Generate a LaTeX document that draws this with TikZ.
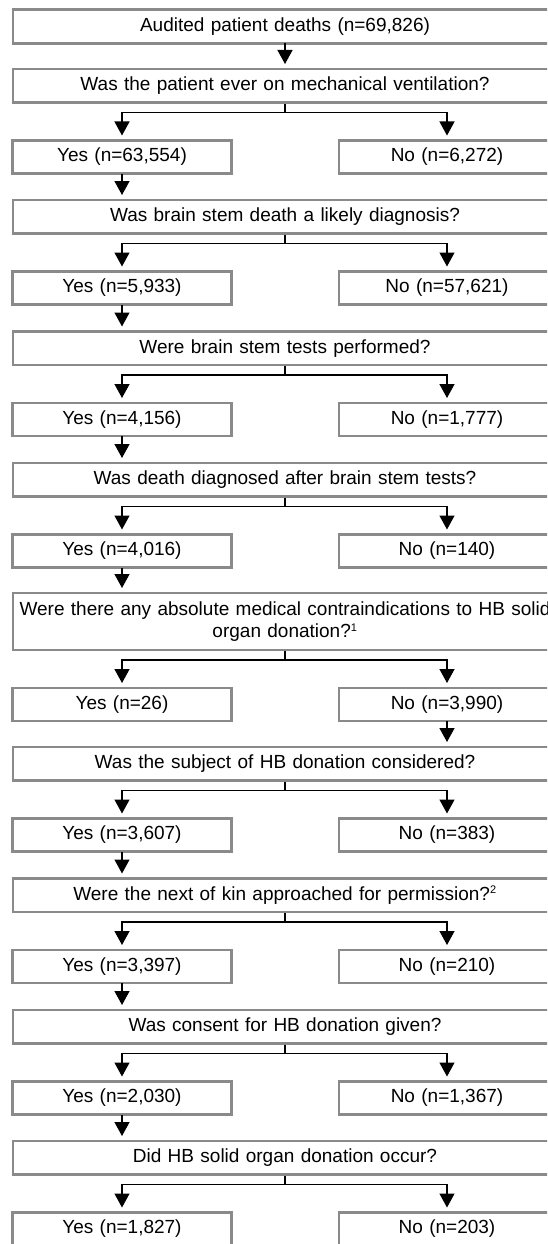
\documentclass[tikz,border=0pt]{standalone}
\usepackage{fontspec}
\setmainfont{Liberation Sans}
\usetikzlibrary{arrows.meta}
\definecolor{boxgray}{RGB}{138,138,138}
\begin{document}
\begin{tikzpicture}[x=1pt,y=-1pt,
  gbox/.style={draw=boxgray, line width=2.4pt, inner sep=0pt, outer sep=0pt, fill=white,
    font=\fontsize{19}{22.8}\selectfont, align=center, anchor=north},
  wide/.style={gbox, minimum width=544pt, text width=544pt, minimum height=33.5pt},
  yesbox/.style={gbox, minimum width=219pt, text width=219pt, minimum height=33pt},
  nobox/.style={gbox, minimum width=216pt, text width=216pt, minimum height=33pt},
  conn/.style={line width=1.3pt, black},
  arr/.style={conn, -{Triangle[length=14pt,width=15pt]}, shorten >=5pt}]
\useasboundingbox (0,0) rectangle (547,1244);
\fill[white] (0,0) rectangle (547,1244);
\clip (0,0) rectangle (547,1244);

\node[wide, minimum height=34pt] (top) at (285,9.5) {Audited patient deaths (n=69,826)};

\node[wide] (q1) at (285,69) {Was the patient ever on mechanical ventilation?};
\node[yesbox] (y1) at (122,140.5) {Yes (n=63,554)};
\node[nobox] (n1) at (447,140.5) {No (n=6,272)};
\coordinate (h1) at (285,112.5);

\node[wide] (q2) at (285,200) {Was brain stem death a likely diagnosis?};
\node[yesbox] (y2) at (122,271.5) {Yes (n=5,933)};
\node[nobox] (n2) at (447,271.5) {No (n=57,621)};
\coordinate (h2) at (285,243.5);

\node[wide] (q3) at (285,331.5) {Were brain stem tests performed?};
\node[yesbox] (y3) at (122,403) {Yes (n=4,156)};
\node[nobox] (n3) at (447,403) {No (n=1,777)};
\coordinate (h3) at (285,375);

\node[wide] (q4) at (285,463) {Was death diagnosed after brain stem tests?};
\node[yesbox] (y4) at (122,534.5) {Yes (n=4,016)};
\node[nobox] (n4) at (447,534.5) {No (n=140)};
\coordinate (h4) at (285,506.5);

\node[wide, minimum height=57pt] (q5) at (285,593) {Were there any absolute medical contraindications to HB solid\\organ donation?\textsuperscript{\fontsize{11}{12}\selectfont 1}};
\node[yesbox] (y5) at (122,688) {Yes (n=26)};
\node[nobox] (n5) at (447,688) {No (n=3,990)};
\coordinate (h5) at (285,660);

\node[wide] (q6) at (285,747) {Was the subject of HB donation considered?};
\node[yesbox] (y6) at (122,818.5) {Yes (n=3,607)};
\node[nobox] (n6) at (447,818.5) {No (n=383)};
\coordinate (h6) at (285,790.5);

\node[wide] (q7) at (285,878.5) {Were the next of kin approached for permission?\textsuperscript{\fontsize{11}{12}\selectfont 2}};
\node[yesbox] (y7) at (122,950) {Yes (n=3,397)};
\node[nobox] (n7) at (447,950) {No (n=210)};
\coordinate (h7) at (285,922);

\node[wide] (q8) at (285,1010) {Was consent for HB donation given?};
\node[yesbox] (y8) at (122,1081.5) {Yes (n=2,030)};
\node[nobox] (n8) at (447,1081.5) {No (n=1,367)};
\coordinate (h8) at (285,1053.5);

\node[wide] (q9) at (285,1141) {Did HB solid organ donation occur?};
\node[yesbox] (y9) at (122,1212.5) {Yes (n=1,827)};
\node[nobox] (n9) at (447,1212.5) {No (n=203)};
\coordinate (h9) at (285,1184.5);

% straight arrows between stages
\draw[arr] (top.south) -- (q1.north);
\draw[arr] (y1.south) -- (y1.south |- q2.north);
\draw[arr] (y2.south) -- (y2.south |- q3.north);
\draw[arr] (y3.south) -- (y3.south |- q4.north);
\draw[arr] (y4.south) -- (y4.south |- q5.north);
\draw[arr] (n5.south) -- (n5.south |- q6.north);
\draw[arr] (y6.south) -- (y6.south |- q7.north);
\draw[arr] (y7.south) -- (y7.south |- q8.north);
\draw[arr] (y8.south) -- (y8.south |- q9.north);

% branches
\foreach \k in {1,...,9}{
  \draw[conn, shorten <=1.2pt] (q\k.south) -- (h\k);
  \draw[arr] (h\k) -| (y\k.north);
  \draw[arr] (h\k) -| (n\k.north);
}
\end{tikzpicture}
\end{document}
